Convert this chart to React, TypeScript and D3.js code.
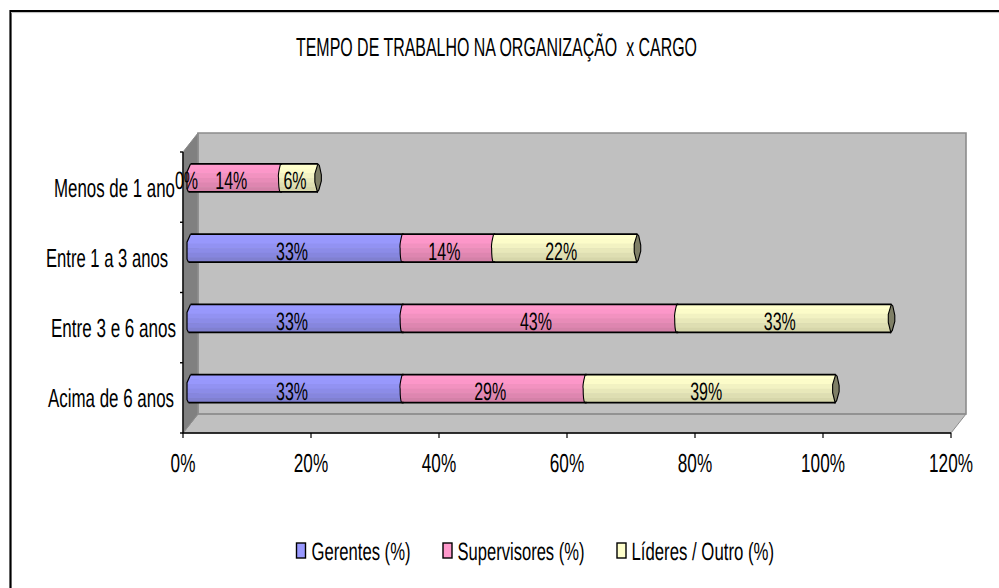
import React from "react";
import * as d3 from "d3";

const title = "TEMPO DE TRABALHO NA ORGANIZAÇÃO  x CARGO";
const categories = ["Menos de 1 ano", "Entre 1 a 3 anos", "Entre 3 e 6 anos", "Acima de 6 anos"];
const seriesNames = ["Gerentes (%)", "Supervisores (%)", "Líderes / Outro (%)"];
const gerentes = [0, 33.3, 33.3, 33.3];
const supervisores = [14.3, 14.3, 42.9, 28.6];
const lideres = [5.6, 22.2, 33.3, 38.9];
const xTicks = [0, 20, 40, 60, 80, 100, 120];
const bandColors = [
  ["#9999ff", "#9898fc", "#9292f2", "#8c8ce8", "#8686de", "#8080d0"],
  ["#ff99cc", "#fc97c9", "#f292c0", "#e88cb8", "#de86b0", "#d481a8"],
  ["#ffffcc", "#fcfcc9", "#f2f2c2", "#e8e8ba", "#dedeb2", "#d6d6aa"],
];
const capColor = "#7f7f66";
const categoryEnds = [175, 168, 176, 174];
const categoryWidths = [121, 122, 125, 126];
const legendSwatchX = [296.5, 443, 617];
const legendTextX = [311.5, 457.5, 631.5];
const legendWidths = [99, 127, 142.5];

const FONT = "'Liberation Sans',Arial,sans-serif";

function Narrow({ x, y, sx, size, children }: any) {
  return (
    <text transform={`translate(${x},${y}) scale(${sx},1)`} textAnchor="middle" fontSize={size} fill="#000">
      {children}
    </text>
  );
}

export default function App() {
  const x = d3.scaleLinear().domain([0, 120]).range([183, 951]);
  const y = d3.scaleBand<string>().domain(categories).range([152, 433]);
  const depthX = 15;
  const depthY = 19;
  const barH = 28;
  const stack = d3
    .stack<any>()
    .keys(["0", "1", "2"])(categories.map((_, i) => ({ 0: gerentes[i], 1: supervisores[i], 2: lideres[i] })));

  const xTop = x(0), xEnd = x(120), yTop = 152, yBot = 433;
  const yTicks = [...categories.map((c) => y(c)!), yBot];

  return (
    <svg
      width={999}
      height={588}
      style={{ position: "absolute", left: 0, top: 0, background: "#fff", textRendering: "geometricPrecision" }}
      fontFamily={FONT}
    >
      {/* chart frame */}
      <path d="M10.5,588 L10.5,11 L999,11" fill="none" stroke="#000" strokeWidth={2.2} />
      <line x1={11} x2={999} y1={12.6} y2={12.6} stroke="#bbb" strokeWidth={1} />

      <text x={296} y={56} fontSize={26} fill="#000" textLength={401} lengthAdjust="spacingAndGlyphs" style={{ whiteSpace: "pre" }}>
        {title}
      </text>

      {/* 3D walls */}
      <polygon
        points={`${xTop},${yTop} ${xTop + depthX},${yTop - depthY} ${xEnd + depthX},${yTop - depthY} ${xEnd + depthX},${yBot - depthY} ${xTop + depthX},${yBot - depthY}`}
        fill="#c0c0c0"
      />
      <polygon
        points={`${xTop},${yBot} ${xTop + depthX},${yBot - depthY} ${xEnd + depthX},${yBot - depthY} ${xEnd},${yBot}`}
        fill="#c0c0c0"
        stroke="#8c8c8c"
        strokeWidth={1}
      />
      <polygon
        points={`${xTop},${yTop} ${xTop + depthX},${yTop - depthY} ${xTop + depthX},${yBot - depthY} ${xTop},${yBot}`}
        fill="#808080"
        stroke="#8c8c8c"
        strokeWidth={1}
      />
      <path
        d={`M${xTop + depthX},${yBot - depthY} V${yTop - depthY} H${xEnd + depthX} V${yBot - depthY} H${xTop + depthX}`}
        fill="none"
        stroke="#8c8c8c"
        strokeWidth={1.6}
      />

      {/* axes */}
      <path d={`M${xTop},${yTop} V${yBot} H${xEnd}`} fill="none" stroke="#000" strokeWidth={1.4} />
      {yTicks.map((t, i) => (
        <line key={i} x1={xTop - 3} x2={xTop} y1={t} y2={t} stroke="#000" strokeWidth={1.4} />
      ))}
      {xTicks.map((t) => (
        <g key={t}>
          <line x1={x(t)} x2={x(t)} y1={yBot} y2={yBot + 5} stroke="#000" strokeWidth={1.2} />
          <Narrow x={x(t)} y={yBot + 38.5} sx={0.66} size={26}>
            {t}%
          </Narrow>
        </g>
      ))}
      {categories.map((c, i) => (
        <text
          key={c}
          x={categoryEnds[i] - categoryWidths[i]}
          y={y(c)! + y.bandwidth() / 2 + 9.5}
          fontSize={26}
          fill="#000"
          textLength={categoryWidths[i]}
          lengthAdjust="spacingAndGlyphs"
        >
          {c}
        </text>
      ))}

      {/* bars */}
      {categories.map((c, i) => {
        const cy = y(c)! + y.bandwidth() / 2 - 9.2;
        const top = cy - barH / 2;
        const off = 4;
        const slant = 3.5;
        const bh = barH / 6;
        const chamfer = (x0: number) =>
          `M${x0 + slant},${top} L${x0},${top + 8} V${top + barH - 3} L${x0 + 1.5},${top + barH}`;
        return (
          <g key={c}>
            {stack.map((s, si) => {
              const x0 = x(s[i][0]) + off;
              const x1 = x(s[i][1]) + off;
              if (x1 - x0 <= 0) return null;
              const isFirst = s[i][0] === 0;
              const clipId = `clip-${i}-${si}`;
              const clipD = isFirst
                ? `${chamfer(x0)} H${x1 + slant} V${top} Z`
                : `M${x0 + 2},${top} Q${x0 - 0.8},${top + barH / 2 - 3} ${x0},${top + barH / 2} Q${x0},${top + barH - 3} ${x0 + 1.5},${top + barH} H${x1 + slant} V${top} Z`;
              return (
                <g key={si}>
                  <clipPath id={clipId}>
                    <path d={clipD} />
                  </clipPath>
                  <g clipPath={`url(#${clipId})`}>
                    {bandColors[si].map((col, b) => (
                      <rect key={b} x={x0 - 1} y={top + b * bh} width={x1 - x0 + slant + 1} height={bh + 0.5} fill={col} />
                    ))}
                  </g>
                </g>
              );
            })}
            {stack.map((s, si) => {
              const x0 = x(s[i][0]) + off;
              const x1 = x(s[i][1]) + off;
              if (x1 - x0 <= 0) return null;
              const isFirst = s[i][0] === 0;
              const isLast = si === stack.length - 1;
              return (
                <g key={si}>
                  <path
                    d={`M${x0 + (isFirst ? slant : 2)},${top} H${x1 + slant} M${x0 + 1.5},${top + barH} H${x1 + slant}`}
                    stroke="#000"
                    strokeWidth={1.7}
                    fill="none"
                  />
                  {isFirst ? (
                    <path d={chamfer(x0)} fill="none" stroke="#000" strokeWidth={1.2} />
                  ) : (
                    <path
                      d={`M${x0 + 2},${top} Q${x0 - 0.8},${top + barH / 2 - 3} ${x0},${top + barH / 2} Q${x0},${top + barH - 3} ${x0 + 1.5},${top + barH}`}
                      fill="none"
                      stroke="#000"
                      strokeWidth={1.1}
                    />
                  )}
                  {isLast && (
                    <polygon
                      points={`${x1 + slant},${top} ${x1 + 5},${top + 1.5} ${x1 + 7},${top + barH / 2 - 3} ${x1 + 7},${top + barH / 2 + 3} ${x1 + 4.5},${top + barH - 2} ${x1 + 3},${top + barH} ${x1 + 0.5},${top + barH / 2 + 4} ${x1 + 0.5},${top + barH / 2 - 4}`}
                      fill={capColor}
                      stroke="#000"
                      strokeWidth={1.1}
                    />
                  )}
                </g>
              );
            })}
            {stack.map((s, si) => {
              const v = s[i][1] - s[i][0];
              const mid = (x(s[i][0]) + x(s[i][1])) / 2 + 2.5;
              const lx = v === 0 ? x(0) + 3.5 : mid;
              return (
                <Narrow key={si} x={lx} y={cy + 11.5} sx={0.64} size={25}>
                  {`${Math.round(v)}%`}
                </Narrow>
              );
            })}
          </g>
        );
      })}

      {/* legend */}
      {seriesNames.map((n, i) => (
        <g key={n}>
          <rect x={legendSwatchX[i]} y={543} width={9} height={15} fill={bandColors[i][0]} stroke="#000" strokeWidth={1.4} />
          <text x={legendTextX[i]} y={560} fontSize={25} fill="#000" textLength={legendWidths[i]} lengthAdjust="spacingAndGlyphs">
            {n}
          </text>
        </g>
      ))}
    </svg>
  );
}
